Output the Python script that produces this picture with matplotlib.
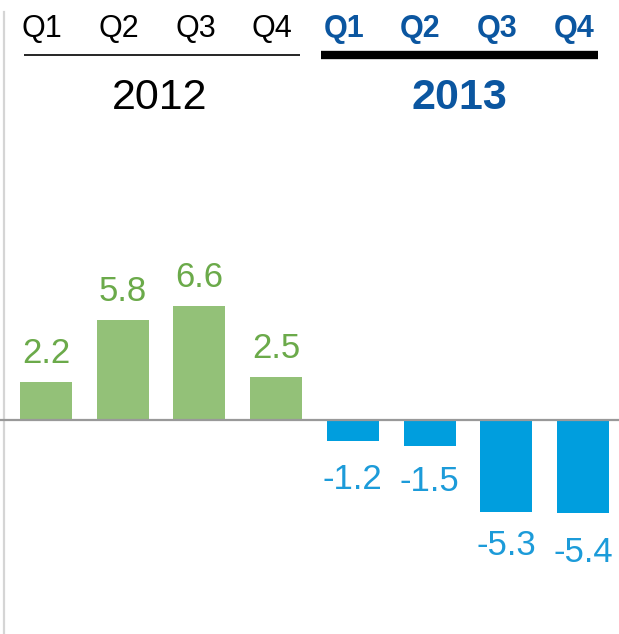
import matplotlib
matplotlib.use("Agg")
import matplotlib.pyplot as plt

years = ["2012", "2013"]
quarters = ["Q1", "Q2", "Q3", "Q4"]
values_2012 = [2.2, 5.8, 6.6, 2.5]
values_2013 = [-1.2, -1.5, -5.3, -5.4]
labels_2012 = ["2.2", "5.8", "6.6", "2.5"]
labels_2013 = ["-1.2", "-1.5", "-5.3", "-5.4"]

W, H = 619, 634
fig = plt.figure(figsize=(W / 100, H / 100), dpi=100)
ax = fig.add_axes([0, 0, 1, 1])
ax.set_axis_off()

px_per_x = 76.7
px_per_y = 17.3
x0_px = 46
zero_px = 420
xmin = -x0_px / px_per_x
xmax = xmin + W / px_per_x
ymax = zero_px / px_per_y
ymin = -(H - zero_px) / px_per_y
ax.set_xlim(xmin, xmax)
ax.set_ylim(ymin, ymax)

plt.rcParams['font.family'] = ['Liberation Sans', 'DejaVu Sans']

green = "#93C178"
green_txt = "#6BAA4A"
blue = "#009EDE"
blue_txt = "#1C9BD9"
navy = "#0B56A0"

x12 = list(range(4))
x13 = [4 + i for i in range(4)]
bw = 52 / px_per_x
ax.bar(x12, values_2012, width=bw, color=green, zorder=2)
ax.bar(x13, values_2013, width=bw, color=blue, zorder=2)

lab_fs = 25
for x, v, t in zip(x12, values_2012, labels_2012):
    ax.annotate(t, (x, v), xytext=(0, 28 * 0.72), textcoords="offset points",
                ha="center", va="center", fontsize=lab_fs, color=green_txt)
neg_offsets_px = [39, 36, 34, 39]
for x, v, t, off in zip(x13, values_2013, labels_2013, neg_offsets_px):
    ax.annotate(t, (x, v), xytext=(0, -off * 0.72), textcoords="offset points",
                ha="center", va="center", fontsize=lab_fs, color=blue_txt)

# zero line
ax.axhline(0, color="#999999", lw=1.6, zorder=3)
# left vertical line
lx = xmin + 4 / px_per_x
ax.plot([lx, lx], [ymin, (zero_px - 12) / px_per_y], color="#D5D5D5", lw=1.6, zorder=1)

def py(p):
    return (zero_px - p) / px_per_y

# headers
q_fs = 22
for x, q in zip(x12, quarters):
    ax.text(x - 4 / px_per_x, py(29), q, ha="center", va="center", fontsize=q_fs, color="black")
for x, q in zip(x13, quarters):
    ax.text(x - 9 / px_per_x, py(29), q, ha="center", va="center", fontsize=q_fs,
            color=navy, fontweight="bold")

ax.plot([xmin + 24 / px_per_x, xmin + 300 / px_per_x], [py(55), py(55)], color="black", lw=1.2,
        solid_capstyle="butt")
ax.plot([xmin + 321 / px_per_x, xmin + 598 / px_per_x], [py(55), py(55)], color="black", lw=6,
        solid_capstyle="butt")

ax.text(xmin + 160 / px_per_x, py(98), years[0], ha="center", va="center", fontsize=31, color="black")
ax.text(xmin + 459 / px_per_x, py(98), years[1], ha="center", va="center", fontsize=31,
        color=navy, fontweight="bold")

fig.savefig("out.png", dpi=100)
